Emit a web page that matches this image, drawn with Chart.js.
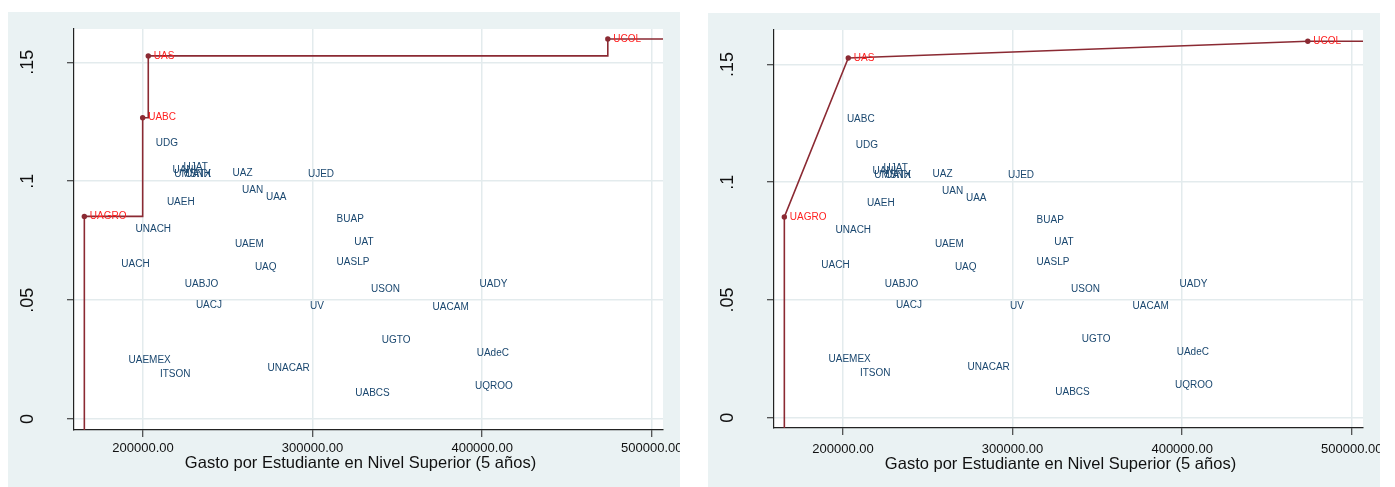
<!DOCTYPE html>
<html>
<head>
<meta charset="utf-8">
<script src="https://cdn.jsdelivr.net/npm/chart.js@4.4.0/dist/chart.umd.min.js"></script>
<style>
  body { margin: 0; background: #fff; width: 1395px; height: 487px; overflow: hidden; position: relative; }
  canvas { position: absolute; }
  #fdh { left: 8px; top: 12px; }
  #vrs { left: 708px; top: 13px; }
</style>
</head>
<body>
<canvas id="fdh" width="672" height="475"></canvas>
<canvas id="vrs" width="672" height="474"></canvas>
<script>
// datos
const universidades = ["UAGRO", "UABC", "UAS", "UCOL", "UDG", "UANL", "UJAT", "UMSNH", "UATX", "UAZ",
  "UJED", "UAN", "UAA", "UAEH", "UNACH", "BUAP", "UAEM", "UAT", "UACH", "UAQ",
  "UASLP", "UABJO", "USON", "UADY", "UACJ", "UV", "UACAM", "UGTO", "UAdeC", "UAEMEX",
  "ITSON", "UNACAR", "UQROO", "UABCS"];
const gasto = [165400, 199800, 203100, 474100, 205100, 214900, 221400, 215900, 222400, 250300,
  294800, 255900, 270000, 211600, 193100, 311700, 251700, 322100, 184700, 263500,
  311700, 222200, 332000, 396000, 228700, 296000, 368300, 338300, 394300, 189000,
  207500, 271000, 393300, 322700];
const indice = [0.0852, 0.1267, 0.1527, 0.1598, 0.1158, 0.1045, 0.1059, 0.1028, 0.1028, 0.1035,
  0.1031, 0.0960, 0.0933, 0.0910, 0.0796, 0.0839, 0.0736, 0.0745, 0.0649, 0.0639,
  0.0660, 0.0565, 0.0547, 0.0568, 0.0477, 0.0475, 0.0471, 0.0333, 0.0277, 0.0249,
  0.0188, 0.0215, 0.0139, 0.0108];

// universidades en la frontera de cada panel
const fronteraFDH = ["UAGRO", "UABC", "UAS", "UCOL"];
const fronteraVRS = ["UAGRO", "UAS", "UCOL"];

const xTicks = [200000, 300000, 400000, 500000];
const yTicks = [0, 0.05, 0.1, 0.15];
const yTickLabels = ["0", ".05", ".1", ".15"];
const tituloX = "Gasto por Estudiante en Nivel Superior (5 años)";

const FONT = '"Liberation Sans", Arial, sans-serif';
const MAROON = "#8b2a33";

// fondo gris del panel y area blanca
const fondo = {
  id: "fondo",
  beforeDraw(chart) {
    const { ctx, chartArea: a, width, height } = chart;
    ctx.save();
    ctx.fillStyle = "#eaf2f3";
    ctx.fillRect(0, 0, width, height);
    ctx.fillStyle = "#fff";
    ctx.fillRect(a.left, a.top, a.right - a.left, a.bottom - a.top);
    ctx.restore();
  }
};

// etiquetas de cada universidad, ticks rotados del eje y, titulo del eje x
const etiquetas = {
  id: "etiquetas",
  afterDatasetsDraw(chart) {
    const ctx = chart.ctx;
    const a = chart.chartArea;
    ctx.save();
    ctx.font = "10px " + FONT;
    ctx.textBaseline = "middle";
    chart.data.datasets.forEach((ds, i) => {
      if (!ds.nombres) return;
      ctx.fillStyle = ds.colorEtiqueta;
      chart.getDatasetMeta(i).data.forEach((p, j) => {
        ctx.fillText(ds.nombres[j], p.x + ds.separacion, p.y);
      });
    });

    const y = chart.scales.y;
    ctx.font = "18px " + FONT;
    ctx.fillStyle = "#111";
    ctx.textAlign = "center";
    ctx.textBaseline = "alphabetic";
    yTicks.forEach((v, k) => {
      ctx.save();
      ctx.translate(25, y.getPixelForValue(v));
      ctx.rotate(-Math.PI / 2);
      ctx.fillText(yTickLabels[k], 0, 0);
      ctx.restore();
    });

    ctx.font = "16.5px " + FONT;
    ctx.fillText(tituloX, (a.left + a.right) / 2 - 8, chart.options.lineaTitulo);
    ctx.restore();
  }
};

function panel(id, cfg) {
  const rojos = cfg.frontera.map(n => universidades.indexOf(n));
  const azules = universidades.map((u, i) => i).filter(i => !cfg.frontera.includes(universidades[i]));
  const pt = i => ({ x: gasto[i], y: indice[i] });

  const ultimo = rojos[rojos.length - 1];
  const linea = [{ x: gasto[rojos[0]], y: cfg.yMin - 0.02 }]
    .concat(rojos.map(pt))
    .concat([{ x: 540000, y: indice[ultimo] }]);

  const grid = { color: "#e3ebed", lineWidth: 1.5, tickLength: 7, tickColor: "#222", tickWidth: 1 };

  new Chart(document.getElementById(id), {
    type: "scatter",
    data: {
      datasets: [
        {
          data: rojos.map(pt),
          nombres: rojos.map(i => universidades[i]),
          colorEtiqueta: "#ff1f1f",
          separacion: 5.5,
          pointRadius: 2.7,
          backgroundColor: MAROON,
          borderWidth: 0
        },
        {
          data: azules.map(pt),
          nombres: azules.map(i => universidades[i]),
          colorEtiqueta: "#1a476f",
          separacion: 4.2,
          pointRadius: 0
        },
        {
          data: linea,
          showLine: true,
          stepped: cfg.stepped,
          borderColor: MAROON,
          borderWidth: 1.6,
          pointRadius: 0
        }
      ]
    },
    options: {
      responsive: false,
      animation: false,
      events: [],
      devicePixelRatio: 1,
      lineaTitulo: cfg.lineaTitulo,
      layout: { padding: { left: 0, top: 17, right: 17, bottom: 0 } },
      plugins: { legend: { display: false }, tooltip: { enabled: false } },
      scales: {
        x: {
          type: "linear",
          min: 159300,
          max: 506650,
          afterBuildTicks: s => { s.ticks = xTicks.map(v => ({ value: v })); },
          afterFit: s => { s.height = cfg.altoX; s.paddingLeft = 0; s.paddingRight = 0; },
          ticks: {
            callback: v => v.toFixed(2),
            autoSkip: false, maxRotation: 0, minRotation: 0,
            padding: cfg.padTicks,
            color: "#111",
            font: { family: FONT, size: 13 }
          },
          grid: grid,
          border: { color: "#222", width: 1.2 }
        },
        y: {
          type: "linear",
          min: cfg.yMin,
          max: cfg.yMax,
          afterBuildTicks: s => { s.ticks = yTicks.map(v => ({ value: v })); },
          afterFit: s => { s.width = 66; s.paddingTop = 0; s.paddingBottom = 0; },
          ticks: { display: false },
          grid: grid,
          border: { color: "#222", width: 1.2 }
        }
      }
    },
    plugins: [fondo, etiquetas]
  });
}

panel("fdh", { frontera: fronteraFDH, stepped: "before", yMin: -0.0046, yMax: 0.164, altoX: 57, padTicks: 4, lineaTitulo: 456 });
panel("vrs", { frontera: fronteraVRS, stepped: false, yMin: -0.0044, yMax: 0.1646, altoX: 59, padTicks: 6.5, lineaTitulo: 456.3 });
</script>
</body>
</html>
